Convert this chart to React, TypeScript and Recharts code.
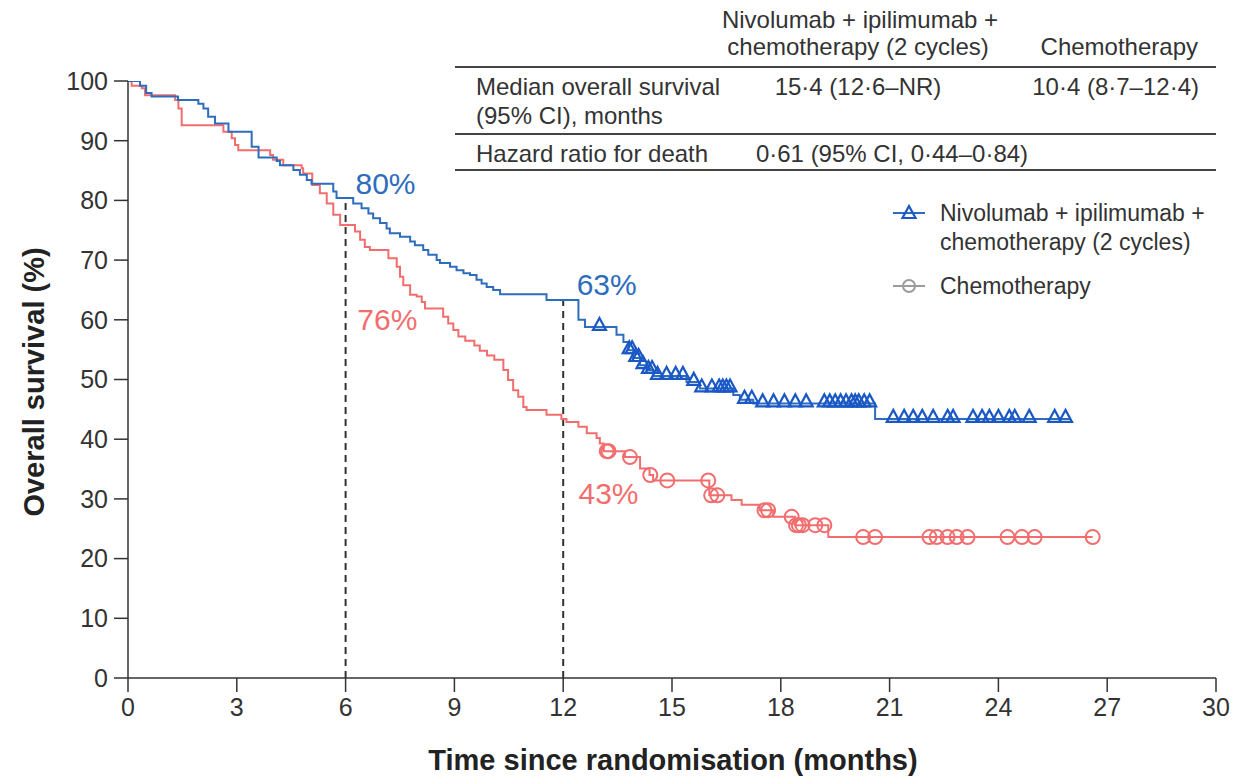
import React from "react";
import {
  ComposedChart,
  Customized,
  Line,
  ReferenceDot,
  ReferenceLine,
  Scatter,
  XAxis,
  YAxis,
} from "recharts";

const FONT = '"Liberation Sans", Arial, Helvetica, sans-serif';
const TEXT = "#333";
const NIVO = "#2e6cbc";
const NIVO_MARK = "#1a58c6";
const CHEMO = "#f26e6e";
const LEGEND_GREY = "#9b9b9b";

// Kaplan–Meier steps: at each time the survival drops to the paired value
const NIVO_TIME = [
  0, 0.33, 0.5, 0.65, 1.38, 1.94, 2.08, 2.21, 2.4, 2.77, 3.41, 3.6, 4.1, 4.19, 4.56, 4.74, 4.93, 5.06, 5.66, 5.75,
  6.21, 6.44, 6.63, 6.76, 6.95, 7.13, 7.22, 7.5, 7.78, 7.91, 8.14, 8.28, 8.51, 8.6, 8.88, 9.06, 9.25, 9.43, 9.61,
  9.75, 9.89, 10.07, 10.26, 11.54, 12.42, 12.6, 13.47, 13.66, 13.8, 13.93, 14.12, 14.3, 14.48, 15.4, 15.77, 16.69,
  16.87, 17.24, 20.6, 26.0,
];
const NIVO_SURV = [
  100, 99.2, 98.0, 97.4, 96.8, 96.2, 95.4, 94.0, 92.9, 91.5, 89.0, 87.2, 86.6, 85.9, 85.1, 84.3, 83.4, 82.8, 81.5,
  80.4, 79.5, 78.7, 77.8, 77.0, 76.2, 75.3, 74.5, 73.9, 73.1, 72.5, 71.7, 70.9, 70.0, 69.5, 68.9, 68.3, 67.8, 67.5,
  66.7, 66.1, 65.5, 65.0, 64.3, 63.3, 60.0, 58.8, 57.5, 56.3, 54.9, 53.6, 52.4, 51.6, 50.6, 49.6, 48.5, 47.4, 46.6,
  46.0, 43.4, 43.4,
];
const NIVO_CENSOR = [
  13.0, 13.82, 13.9, 14.0, 14.08, 14.2, 14.35, 14.45, 14.6, 14.85, 15.1, 15.3, 15.6, 15.82, 16.1, 16.3, 16.4, 16.5,
  16.6, 17.0, 17.2, 17.5, 17.8, 18.1, 18.4, 18.7, 19.2, 19.35, 19.5, 19.65, 19.8, 19.95, 20.05, 20.15, 20.3, 20.45,
  21.1, 21.4, 21.65, 21.9, 22.2, 22.6, 22.75, 23.3, 23.55, 23.75, 24.0, 24.3, 24.45, 24.85, 25.55, 25.85,
];

const CHEMO_TIME = [
  0, 0.1, 0.38, 0.47, 1.3, 1.39, 1.48, 2.63, 2.86, 2.95, 3.04, 3.92, 4.0, 4.28, 4.79, 4.83, 5.08, 5.29, 5.48, 5.66,
  5.85, 6.26, 6.4, 6.53, 6.67, 7.18, 7.41, 7.5, 7.59, 7.78, 7.96, 8.1, 8.19, 8.69, 8.83, 8.97, 9.11, 9.3, 9.55, 9.7,
  9.9, 10.1, 10.35, 10.48, 10.62, 10.76, 10.9, 10.99, 11.54, 11.95, 12.09, 12.42, 12.65, 12.92, 13.01, 13.12, 13.7,
  14.12, 14.38, 14.48, 16.03, 16.64, 16.92, 17.42, 17.79, 18.39, 19.31, 26.6,
];
const CHEMO_SURV = [
  100, 99.2, 98.8, 97.6, 96.8, 95.4, 92.6, 91.5, 90.4, 89.3, 88.4, 87.6, 86.8, 85.9, 85.4, 84.5, 82.6, 81.2, 79.5,
  77.6, 75.9, 74.8, 73.4, 72.2, 71.7, 70.3, 68.9, 67.2, 65.8, 64.2, 63.9, 63.0, 61.9, 60.5, 59.4, 58.3, 57.2, 56.5,
  55.7, 54.8, 54.0, 53.3, 51.6, 49.9, 48.2, 47.1, 45.4, 44.9, 44.1, 43.4, 42.9, 42.1, 41.0, 40.2, 39.3, 38.0, 37.0,
  35.1, 34.0, 33.1, 30.6, 29.8, 29.0, 28.1, 27.0, 25.6, 23.6, 23.6,
];
const CHEMO_CENSOR = [
  13.2, 13.25, 13.84, 14.4, 14.87, 16.0, 16.08, 16.25, 17.55, 17.65, 18.3, 18.42, 18.5, 18.6, 18.95, 19.2, 20.27,
  20.6, 22.1, 22.3, 22.6, 22.85, 23.15, 24.25, 24.65, 25.0, 26.6,
];

const X_TICKS = [0, 3, 6, 9, 12, 15, 18, 21, 24, 27, 30];
const Y_TICKS = [0, 10, 20, 30, 40, 50, 60, 70, 80, 90, 100];
const LANDMARK_MONTHS = [6, 12];
const NIVO_LANDMARK_PCT = ["80%", "63%"];
const CHEMO_LANDMARK_PCT = ["76%", "43%"];

const toPoints = (time: number[], surv: number[]) => time.map((t, i) => ({ t, s: surv[i] }));

// survival level in force at time t (step function lookup)
const survAt = (time: number[], surv: number[], t: number) => {
  let s = surv[0];
  for (let i = 0; i < time.length; i++) if (time[i] <= t) s = surv[i];
  return s;
};

const nivoData = toPoints(NIVO_TIME, NIVO_SURV);
const chemoData = toPoints(CHEMO_TIME, CHEMO_SURV);
const nivoCensored = NIVO_CENSOR.map((t) => ({ t, s: survAt(NIVO_TIME, NIVO_SURV, t) }));
const chemoCensored = CHEMO_CENSOR.map((t) => ({ t, s: survAt(CHEMO_TIME, CHEMO_SURV, t) }));

const triangle = (cx: number, cy: number, color: string) => (
  <path d={`M${cx},${cy - 9} L${cx - 6.5},${cy + 3} L${cx + 6.5},${cy + 3} Z`} fill="none" stroke={color} strokeWidth={2.2} />
);

const TriangleMark = (p: any) => triangle(p.cx, p.cy, NIVO_MARK);
const CircleMark = (p: any) => <circle cx={p.cx} cy={p.cy} r={7} fill="none" stroke={CHEMO} strokeWidth={2} />;

const pctLabel = (value: string, fill: string) => ({ value, position: "center" as const, fill, fontSize: 30, fontFamily: FONT });

// summary table (top right), legend and axis titles
function Annotations() {
  const t = { fontFamily: FONT, fontSize: 24, fill: TEXT, dominantBaseline: "central" as const };
  const lg = { ...t, fontSize: 23 };
  const title = { fontFamily: FONT, fontSize: 29, fontWeight: "bold", fill: "#222", textAnchor: "middle" as const, dominantBaseline: "central" as const };
  return (
    <g>
      <text {...t} x={860} y={19} textAnchor="middle">Nivolumab + ipilimumab +</text>
      <text {...t} x={858} y={46} textAnchor="middle">chemotherapy (2 cycles)</text>
      <text {...t} x={1198} y={46} textAnchor="end">Chemotherapy</text>
      <line x1={455} x2={1216} y1={67} y2={67} stroke="#444" strokeWidth={2} />
      <text {...t} x={476} y={86}>Median overall survival</text>
      <text {...t} x={476} y={115}>(95% CI), months</text>
      <text {...t} x={858} y={86} textAnchor="middle">15·4 (12·6–NR)</text>
      <text {...t} x={1199} y={86} textAnchor="end">10·4 (8·7–12·4)</text>
      <line x1={455} x2={1216} y1={134} y2={134} stroke="#444" strokeWidth={2} />
      <text {...t} x={476} y={153}>Hazard ratio for death</text>
      <text {...t} x={892} y={153} textAnchor="middle">0·61 (95% CI, 0·44–0·84)</text>
      <line x1={455} x2={1216} y1={170} y2={170} stroke="#444" strokeWidth={2} />

      <line x1={893} x2={925} y1={213} y2={213} stroke={NIVO} strokeWidth={2} />
      {triangle(909, 215, NIVO_MARK)}
      <text {...lg} x={940} y={213}>Nivolumab + ipilimumab +</text>
      <text {...lg} x={940} y={242}>chemotherapy (2 cycles)</text>
      <line x1={893} x2={925} y1={286} y2={286} stroke={LEGEND_GREY} strokeWidth={2} />
      <circle cx={909} cy={286} r={6} fill="none" stroke={LEGEND_GREY} strokeWidth={2} />
      <text {...lg} x={940} y={286}>Chemotherapy</text>

      <text {...title} x={34} y={382} transform="rotate(-90 34 382)">
        Overall survival (%)
      </text>
      <text {...title} x={673} y={760}>
        Time since randomisation (months)
      </text>
    </g>
  );
}

export default function App() {
  const tick = { fontFamily: FONT, fontSize: 25, fill: TEXT };
  return (
    <div style={{ position: "absolute", left: 0, top: 0, width: 1235, height: 778, background: "#fff" }}>
      <ComposedChart width={1235} height={778} margin={{ top: 81, right: 19, bottom: 50, left: 68 }}>
        <XAxis
          type="number"
          dataKey="t"
          domain={[0, 30]}
          ticks={X_TICKS}
          interval={0}
          tickSize={14}
          tickMargin={6}
          tick={tick}
          stroke="#333"
          strokeWidth={1.5}
          height={50}
          allowDataOverflow
        />
        <YAxis
          type="number"
          dataKey="s"
          domain={[0, 100]}
          ticks={Y_TICKS}
          interval={0}
          tickSize={14}
          tickMargin={6}
          tick={tick}
          stroke="#333"
          strokeWidth={1.5}
          width={60}
          allowDataOverflow
        />
        {LANDMARK_MONTHS.map((m) => (
          <ReferenceLine
            key={m}
            segment={[
              { x: m, y: 0 },
              { x: m, y: survAt(NIVO_TIME, NIVO_SURV, m) },
            ]}
            stroke="#333"
            strokeWidth={2}
            strokeDasharray="7 5"
          />
        ))}
        <Line data={chemoData} dataKey="s" type="stepAfter" stroke={CHEMO} strokeWidth={2} dot={false} isAnimationActive={false} />
        <Line data={nivoData} dataKey="s" type="stepAfter" stroke={NIVO} strokeWidth={2} dot={false} isAnimationActive={false} />
        <Scatter data={chemoCensored} dataKey="s" shape={CircleMark} isAnimationActive={false} />
        <Scatter data={nivoCensored} dataKey="s" shape={TriangleMark} isAnimationActive={false} />
        <ReferenceDot x={7.1} y={82.9} r={0} fill="none" stroke="none" label={pctLabel(NIVO_LANDMARK_PCT[0], NIVO)} />
        <ReferenceDot x={7.15} y={60} r={0} fill="none" stroke="none" label={pctLabel(CHEMO_LANDMARK_PCT[0], CHEMO)} />
        <ReferenceDot x={13.2} y={66} r={0} fill="none" stroke="none" label={pctLabel(NIVO_LANDMARK_PCT[1], NIVO)} />
        <ReferenceDot x={13.25} y={31} r={0} fill="none" stroke="none" label={pctLabel(CHEMO_LANDMARK_PCT[1], CHEMO)} />
        <Customized component={<Annotations />} />
      </ComposedChart>
    </div>
  );
}
